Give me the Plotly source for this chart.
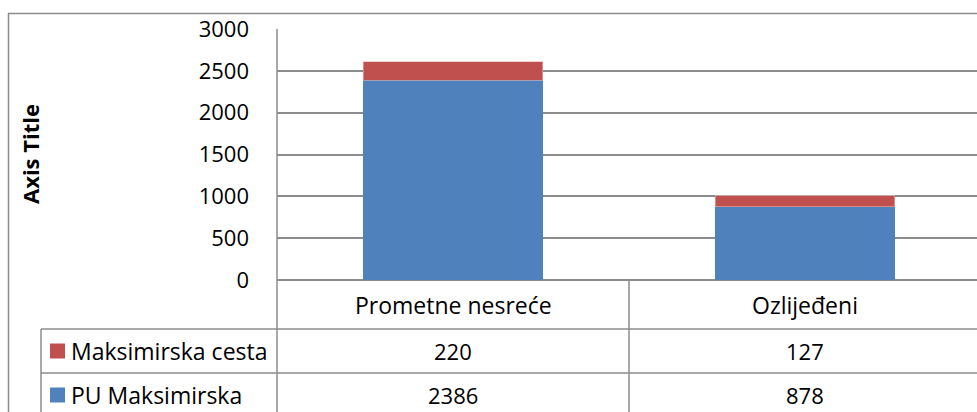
import plotly.graph_objects as go

# Data
categories = ["Prometne nesreće", "Ozlijeđeni"]
series_names = ["PU Maksimirska", "Maksimirska cesta"]
pu_maksimirska = [2386, 878]
maksimirska_cesta = [220, 127]
series_colors = ["#4F81BD", "#C0504D"]
y_ticks = [0, 500, 1000, 1500, 2000, 2500, 3000]

W, H = 977, 412
ML, MT, MB = 277, 29, 132
PW = W - ML
PH = H - MT - MB
CAT_W = 352  # pixel width of one category slot

FONT = "Open Sans"
GRID = "#8C8C8C"
TXT = "#000000"
FS_TEXT = 23
FS_NUM = 22


def px(x):
    """pixel x -> paper x"""
    return (x - ML) / PW


def py(y):
    """pixel y -> paper y"""
    return (H - MB - y) / PH


fig = go.Figure()
fig.add_trace(go.Bar(x=categories, y=pu_maksimirska, name=series_names[0],
                     marker=dict(color=series_colors[0], line=dict(width=0)), width=0.51))
fig.add_trace(go.Bar(x=categories, y=maksimirska_cesta, name=series_names[1],
                     marker=dict(color=series_colors[1], line=dict(width=0.6, color="#E8B4B3")),
                     width=0.51))

shapes = []
line = dict(color=GRID, width=1.5)
# outer chart frame (top + left)
shapes.append(dict(type="line", xref="paper", yref="paper", x0=px(8), x1=px(1000), y0=py(13.5), y1=py(13.5), line=line))
shapes.append(dict(type="line", xref="paper", yref="paper", x0=px(8.5), x1=px(8.5), y0=py(13), y1=py(430), line=line))
# plot-area left edge continuing through the data table
shapes.append(dict(type="line", xref="paper", yref="paper", x0=0, x1=0, y0=1, y1=py(430), line=line))
# data table rows
for yy in (329, 373):
    shapes.append(dict(type="line", xref="paper", yref="paper", x0=px(41), x1=px(1000), y0=py(yy), y1=py(yy), line=line))
shapes.append(dict(type="line", xref="paper", yref="paper", x0=px(41), x1=px(41), y0=py(329), y1=py(430), line=line))
# divider between the category columns
shapes.append(dict(type="line", xref="x", yref="paper", x0=0.5, x1=0.5, y0=0, y1=py(430), line=line))

annotations = []
tfont = dict(family=FONT, size=FS_TEXT, color=TXT)
nfont = dict(family=FONT, size=FS_NUM, color=TXT)
# category header row
for i, c in enumerate(categories):
    annotations.append(dict(x=i, xref="x", y=py(305), yref="paper", text=c, showarrow=False,
                            font=tfont, xanchor="center", yanchor="middle"))
# value rows: top series first, as in the stacked legend order
rows = [(series_names[1], maksimirska_cesta, series_colors[1], 351),
        (series_names[0], pu_maksimirska, series_colors[0], 395)]
for name, vals, col, yc in rows:
    shapes.append(dict(type="rect", xref="paper", yref="paper", x0=px(50), x1=px(65),
                       y0=py(yc - 7.5), y1=py(yc + 7.5), fillcolor=col, line=dict(width=0)))
    annotations.append(dict(x=px(69), xref="paper", y=py(yc), yref="paper", text=name, showarrow=False,
                            font=tfont, xanchor="left", yanchor="middle"))
    for i, v in enumerate(vals):
        annotations.append(dict(x=i, xref="x", y=py(yc), yref="paper", text=str(v), showarrow=False,
                                font=nfont, xanchor="center", yanchor="middle"))
# y axis title
annotations.append(dict(x=px(30), xref="paper", y=py(154), yref="paper", text="<b>Axis Title</b>",
                        showarrow=False, textangle=-90, font=dict(family=FONT, size=22, color=TXT),
                        xanchor="center", yanchor="middle"))

fig.update_layout(
    width=W, height=H,
    margin=dict(l=ML, r=0, t=MT, b=MB, pad=0),
    paper_bgcolor="white", plot_bgcolor="white",
    barmode="stack", showlegend=False,
    font=dict(family=FONT, size=FS_NUM, color=TXT),
    xaxis=dict(type="category", range=[-0.5, -0.5 + PW / CAT_W], showticklabels=False,
               showgrid=False, zeroline=False, showline=False, ticks=""),
    yaxis=dict(range=[0, 3000], tickvals=y_ticks, showgrid=True, gridcolor=GRID, gridwidth=1.5,
               zeroline=True, zerolinecolor=GRID, zerolinewidth=1.5, showline=False, ticks="",
               ticklabelstandoff=27, tickfont=dict(family=FONT, size=FS_NUM, color=TXT)),
    shapes=shapes, annotations=annotations,
)

fig.write_html("out.html")
